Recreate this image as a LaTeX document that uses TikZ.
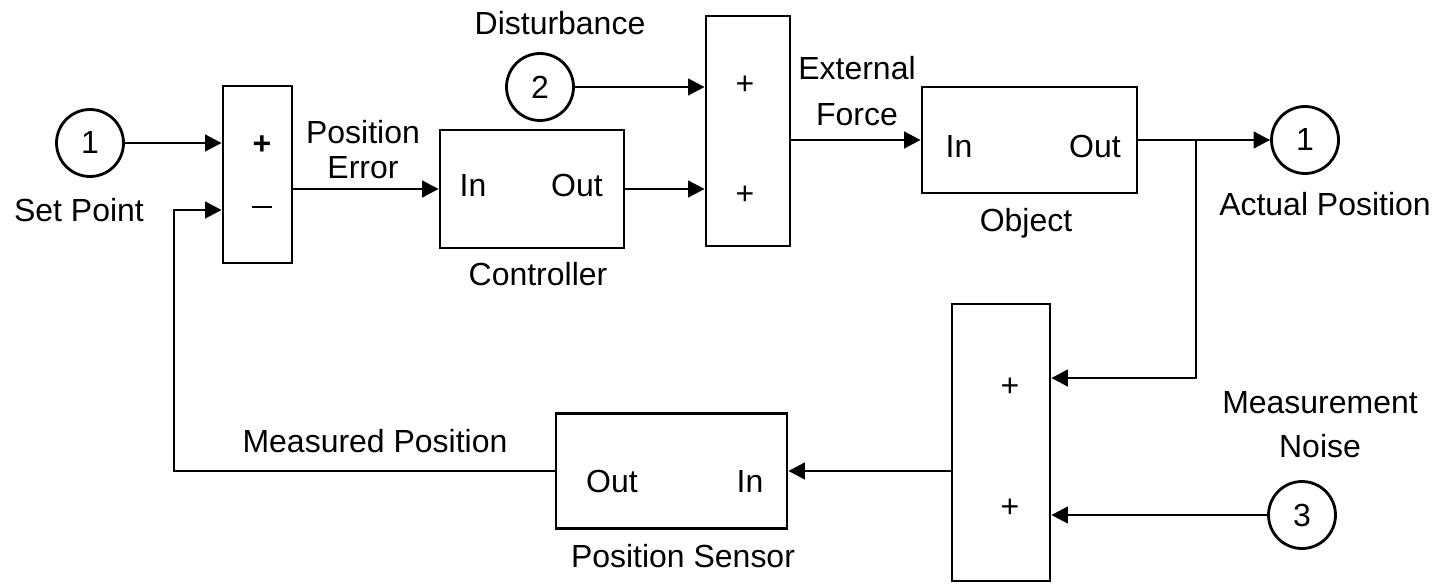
\documentclass[tikz,border=0pt]{standalone}
\usepackage{fontspec}
\setmainfont{Liberation Sans}
\usetikzlibrary{arrows.meta}

\begin{document}
\begin{tikzpicture}[
                x=0.02cm, y=-0.02cm,
                every node/.style={font=\fontsize{18.2}{20}\selectfont},
                blk/.style={draw, line width=1.6pt, inner sep=0pt},
                port/.style={circle, draw, line width=1.6pt, minimum size=1.34cm, inner sep=0pt},
                sig/.style={line width=1.6pt, -{Triangle[length=0.33cm, width=0.33cm]}}
            ]
                \useasboundingbox (0,0) rectangle (1434,584);

                % Inputs and output ports
                \node[port] (I1) at (90,143) {1};
                \node[port] (I2) at (540,87) {2};
                \node[port] (I3) at (1302,515) {3};
                \node[port] (O1) at (1305,140) {1};

                % Sum blocks
                \node[blk, minimum width=1.38cm, minimum height=3.54cm] (S1) at (257.5,174.5) {};
                \node[blk, minimum width=1.68cm, minimum height=4.6cm] (S2) at (748,131) {};
                \node[blk, minimum width=1.96cm, minimum height=5.54cm] (S3) at (1001,442.5) {};
                \node (s1a) at (262,145) {\textbf{+}};
                \node (s1b) at (262,207) {\rule{0.4cm}{0.9pt}};
                \node (s2a) at (745,85) {+};
                \node (s2b) at (745,195) {+};
                \node (s3a) at (1010,387) {+};
                \node (s3b) at (1010,508) {+};

                % Subsystem blocks
                \node[blk, minimum width=3.68cm, minimum height=2.36cm] (Ctrl) at (532,189) {};
                \node[blk, minimum width=4.3cm, minimum height=2.12cm] (Obj) at (1029.5,140) {};
                \node[blk, minimum width=4.62cm, minimum height=2.3cm] (PS) at (671.5,471) {};
                \node[anchor=base] (ctIn) at (473,197) {In};
                \node[anchor=base] (ctOut) at (577,197) {Out};
                \node[anchor=base] (obIn) at (959,158) {In};
                \node[anchor=base] (obOut) at (1095,158) {Out};
                \node[anchor=base] (psOut) at (612,492) {Out};
                \node[anchor=base] (psIn) at (750,492) {In};

                % Labels
                \node[anchor=base] (lSet) at (79,222) {Set Point};
                \node[align=center] (lErr) at (363,150) {Position\\Error};
                \node[anchor=base] (lDist) at (560,35) {Disturbance};
                \node[anchor=base] (lCtrl) at (538,286) {Controller};
                \node[align=center] (lForce) at (857,91) {External\\[6pt]Force};
                \node[anchor=base] (lObj) at (1026,232) {Object};
                \node[anchor=base] (lAct) at (1325,216) {Actual Position};
                \node[align=center] (lNoise) at (1320,425) {Measurement\\[5pt]Noise};
                \node[anchor=base] (lMeas) at (375,452) {Measured Position};
                \node[anchor=base] (lSens) at (683,567) {Position Sensor};

                % Signal lines
                \coordinate (fb) at (174,210);
                \coordinate (tap) at (1196,140);
                \coordinate (tapd) at (1196,378);
                \draw[sig] (I1) -- (I1 -| S1.west);
                \draw[sig] (PS.west) -| (fb) -- (fb -| S1.west);
                \draw[sig] (S1.east |- Ctrl.west) -- (Ctrl.west);
                \draw[sig] (I2) -- (I2 -| S2.west);
                \draw[sig] (Ctrl.east) -- (Ctrl.east -| S2.west);
                \draw[sig] (S2.east |- Obj.west) -- (Obj.west);
                \draw[sig] (Obj.east) -- (O1);
                \draw[sig] (tap) -- (tapd) -- (tapd -| S3.east);
                \draw[sig] (I3) -- (I3 -| S3.east);
                \draw[sig] (S3.west |- PS.east) -- (PS.east);
            \end{tikzpicture}
\end{document}
